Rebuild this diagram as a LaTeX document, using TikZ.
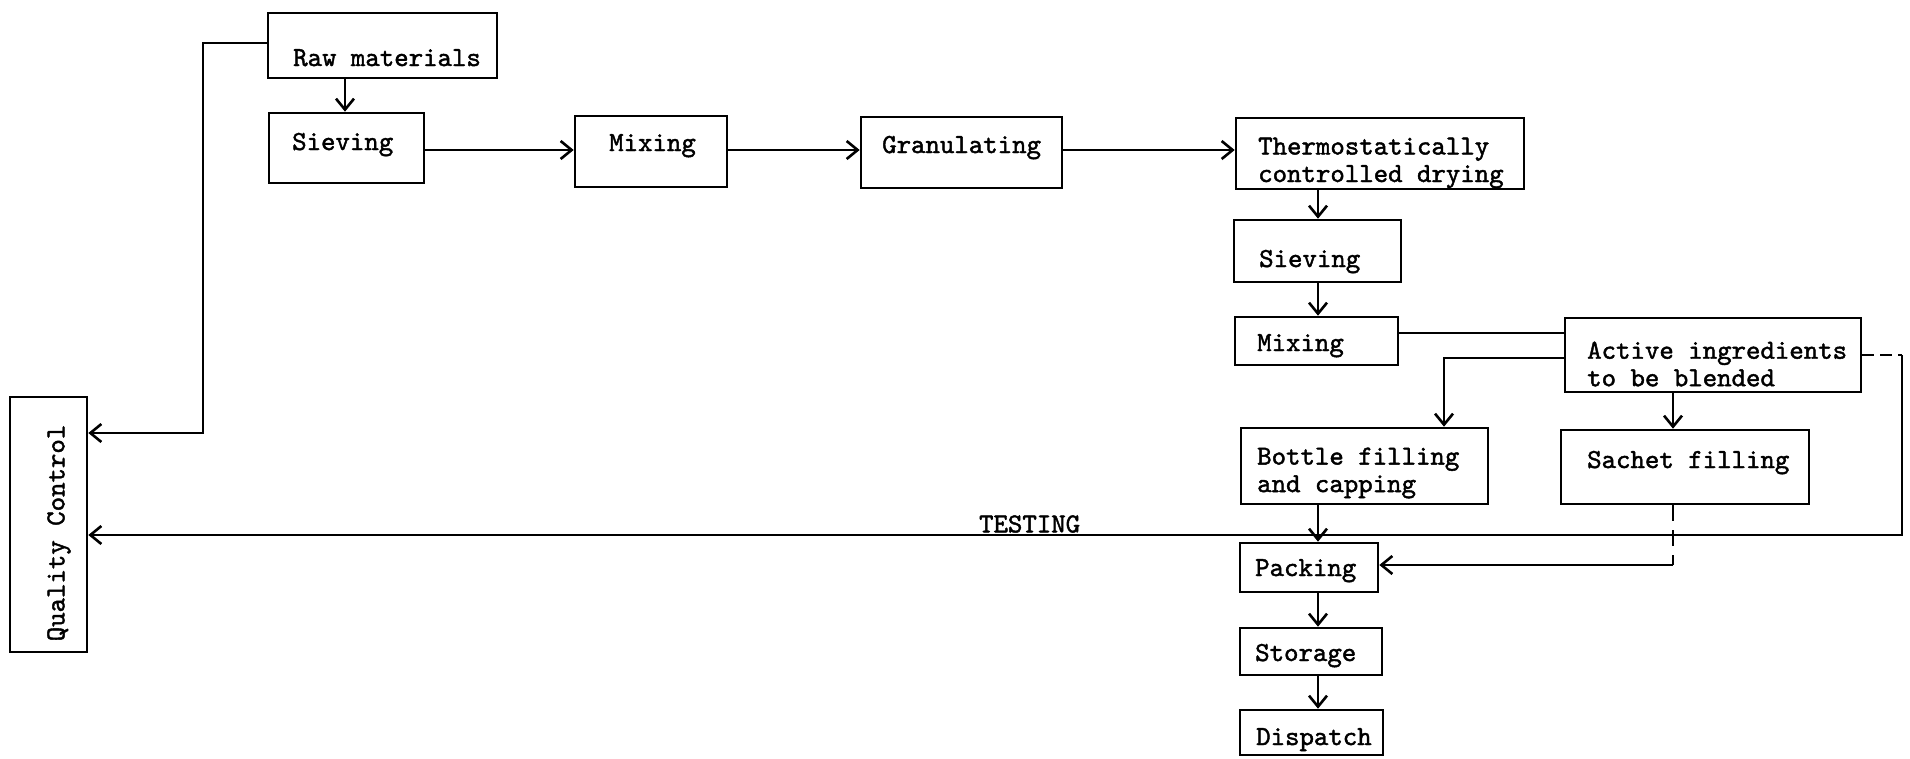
\documentclass[tikz,border=0pt]{standalone}
\usepackage{fontspec}
\usetikzlibrary{arrows.meta}
% typewriter face, thickened a little
\newfontfamily\typew{lmmono10-regular}[Extension=.otf, FakeBold=1.6]
\begin{document}
\begin{tikzpicture}[x=1pt,y=-1pt,
  box/.style={draw, line width=2.6pt, inner sep=0pt},
  txt/.style={font=\fontsize{27.5}{27.5}\selectfont\typew, inner sep=0pt},
  lbl/.style={txt, anchor=base west},
  lbltwo/.style={txt, anchor=west, align=left},
  conn/.style={line width=2.6pt},
  arr/.style={conn, -{Straight Barb[length=11pt,width=18pt,line width=2.6pt]}},
]
\useasboundingbox (0,0) rectangle (1910,758);

% process boxes
\node[box, minimum width=229pt, minimum height=65pt] (raw)    at (382.5,45.5) {};
\node[box, minimum width=155pt, minimum height=70pt] (sv1)    at (346.5,148) {};
\node[box, minimum width=152pt, minimum height=71pt] (mx1)    at (651,151.5) {};
\node[box, minimum width=201pt, minimum height=71pt] (gran)   at (961.5,152.5) {};
\node[box, minimum width=288pt, minimum height=71pt] (thermo) at (1380,153.5) {};
\node[box, minimum width=167pt, minimum height=62pt] (sv2)    at (1317.5,251) {};
\node[box, minimum width=163pt, minimum height=48pt] (mx2)    at (1316.5,341) {};
\node[box, minimum width=296pt, minimum height=74pt] (act)    at (1713,355) {};
\node[box, minimum width=247pt, minimum height=76pt] (bottle) at (1364.5,466) {};
\node[box, minimum width=248pt, minimum height=74pt] (sachet) at (1685,467) {};
\node[box, minimum width=138pt, minimum height=49pt] (pack)   at (1309,567.5) {};
\node[box, minimum width=142pt, minimum height=47pt] (store)  at (1311,651.5) {};
\node[box, minimum width=143pt, minimum height=45pt] (disp)   at (1311.5,732.5) {};
\node[box, minimum width=77pt,  minimum height=255pt] (qc)    at (48.5,524.5) {};

% box texts
\node[lbl] (rawT)    at (293,66)   {Raw materials};
\node[lbl] (sv1T)    at (292,150)  {Sieving};
\node[lbl] (mx1T)    at (609,151)  {Mixing};
\node[lbl] (granT)   at (882,153)  {Granulating};
\node[lbltwo] (thermoT) at (1258,163) {Thermostatically\\controlled drying};
\node[lbl] (sv2T)    at (1259,267) {Sieving};
\node[lbl] (mx2T)    at (1257,351) {Mixing};
\node[lbltwo] (actT) at (1587,364) {Active ingredients\\to be blended};
\node[lbltwo] (bottleT) at (1257,473) {Bottle filling\\and capping};
\node[lbl] (sachetT) at (1587,468) {Sachet filling};
\node[lbl] (packT)   at (1255,576) {Packing};
\node[lbl] (storeT)  at (1255,661) {Storage};
\node[lbl] (dispT)   at (1256,745) {Dispatch};
\node[txt, rotate=90] (qcT) at (59,533) {Quality Control};

% guide coordinates for connector routes
\coordinate (rowY)   at (0,150);
\coordinate (rawX)   at (345,0);
\coordinate (colX)   at (1318,0);
\coordinate (qcTopY) at (0,43);
\coordinate (qcLeftX) at (203,0);
\coordinate (qcInY)  at (0,433);
\coordinate (mixY)   at (0,333);
\coordinate (botY)   at (0,358);
\coordinate (botX)   at (1444,0);
\coordinate (sacX)   at (1673,0);
\coordinate (rightY) at (0,355);
\coordinate (rightX) at (1902,0);
\coordinate (testY)  at (0,535);
\coordinate (sacInY) at (0,565);

% main line
\draw[arr] (raw.south -| rawX) -- (sv1.north -| rawX);
\draw[arr] (sv1.east |- rowY) -- (mx1.west |- rowY);
\draw[arr] (mx1.east |- rowY) -- (gran.west |- rowY);
\draw[arr] (gran.east |- rowY) -- (thermo.west |- rowY);
\draw[arr] (thermo.south -| colX) -- (sv2.north -| colX);
\draw[arr] (sv2.south -| colX) -- (mx2.north -| colX);
\draw[conn] (mx2.east |- mixY) -- (act.west |- mixY);
\draw[arr] (act.west |- botY) -- (botX |- botY) -- (bottle.north -| botX);
\draw[arr] (act.south -| sacX) -- (sachet.north -| sacX);
\draw[arr] (bottle.south -| colX) -- (pack.north -| colX);
\draw[conn, dash pattern=on 16pt off 9pt] (sachet.south -| sacX) -- (sacX |- sacInY);
\draw[arr] (sacX |- sacInY) -- (pack.east |- sacInY);
\draw[arr] (pack.south -| colX) -- (store.north -| colX);
\draw[arr] (store.south -| colX) -- (disp.north -| colX);

% quality control routes
\draw[arr] (raw.west |- qcTopY) -- (qcLeftX |- qcTopY) -- (qcLeftX |- qcInY) -- (qc.east |- qcInY);
\draw[conn, dash pattern=on 12pt off 6pt] (act.east |- rightY) -- (rightX |- rightY);
\draw[arr] (rightX |- rightY) -- (rightX |- testY) -- (qc.east |- testY)
  node[pos=0.481, above=1pt, txt] (testT) {TESTING};
\end{tikzpicture}
\end{document}
